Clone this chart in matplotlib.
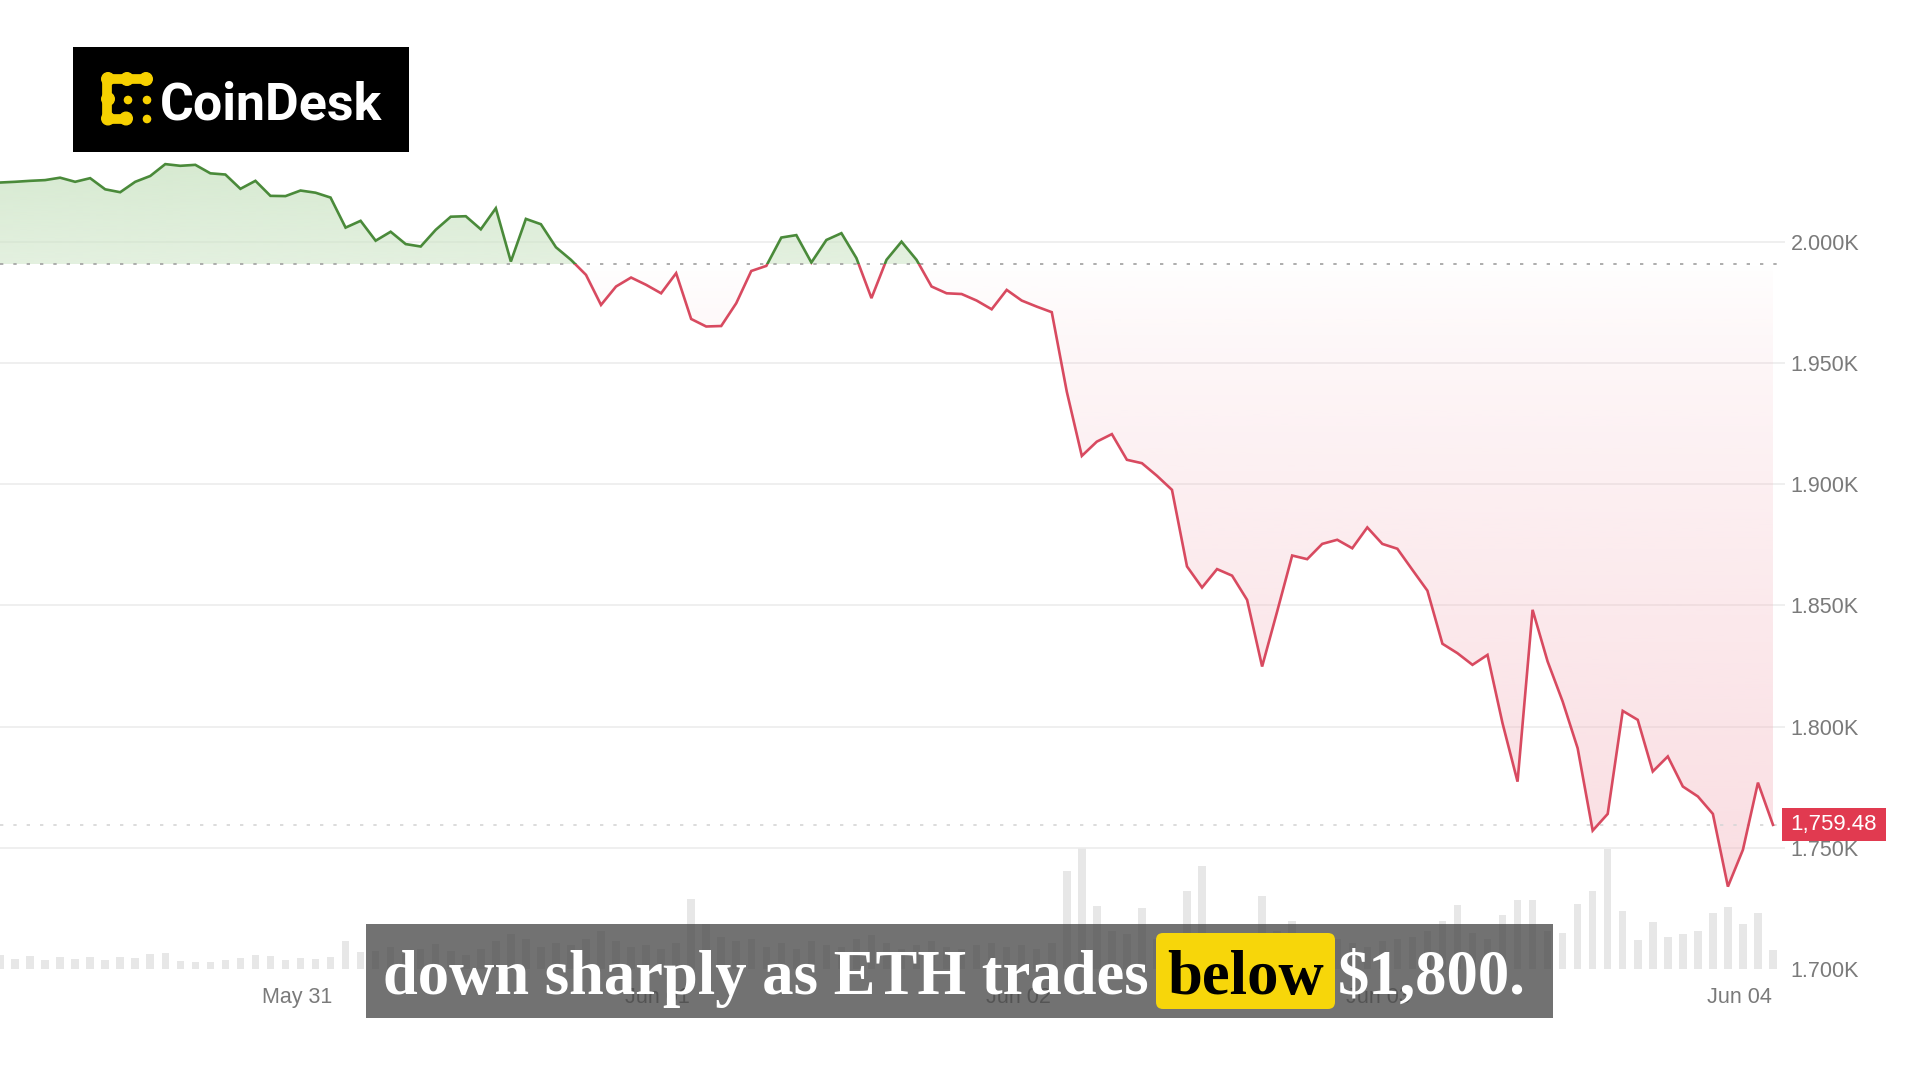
import matplotlib
matplotlib.use('Agg')
import matplotlib.pyplot as plt
import matplotlib.dates as mdates
import matplotlib.transforms as mtransforms
from matplotlib.patches import Rectangle, FancyBboxPatch, Circle
from matplotlib.path import Path
from matplotlib.ticker import FuncFormatter
import numpy as np
import pandas as pd

# ETH hourly price (USD)
price = [2024.5, 2024.8, 2025.2, 2025.5, 2026.5, 2024.8, 2026.3, 2021.7, 2020.5, 2024.8,
         2027.2, 2032.1, 2031.4, 2031.8, 2028.3, 2027.8, 2021.9, 2025.2, 2019.0, 2018.9,
         2021.2, 2020.3, 2018.3, 2005.9, 2008.7, 2000.5, 2004.2, 1999.1, 1998.1, 2005.0,
         2010.4, 2010.6, 2005.2, 2013.9, 1991.9, 2009.5, 2007.3, 1997.8, 1992.6, 1986.4,
         1974.0, 1981.6, 1985.3, 1982.3, 1978.8, 1987.1, 1968.2, 1965.1, 1965.3, 1974.7,
         1988.0, 1990.1, 2001.8, 2002.8, 1991.5, 2000.8, 2003.6, 1993.3, 1976.8, 1992.6,
         2000.1, 1992.6, 1981.6, 1978.8, 1978.5, 1975.8, 1972.2, 1980.2, 1975.8, 1973.3,
         1971.0, 1938.2, 1911.7, 1917.6, 1920.7, 1910.1, 1908.7, 1903.5, 1897.7, 1866.1,
         1857.4, 1865.0, 1862.3, 1852.3, 1824.8, 1847.5, 1870.6, 1869.1, 1875.4, 1877.1,
         1873.6, 1882.2, 1875.4, 1873.4, 1864.7, 1856.1, 1834.2, 1830.3, 1825.5, 1829.6,
         1801.4, 1777.3, 1848.2, 1826.9, 1810.4, 1791.1, 1757.1, 1764.0, 1806.5, 1802.8,
         1781.5, 1787.7, 1775.3, 1771.2, 1764.0, 1734.0, 1749.2, 1776.9, 1759.48]

# relative hourly volume (bar heights)
volume = [14, 10, 13, 9, 12, 10, 12, 9, 12, 11,
          15, 16, 8, 7, 7, 9, 11, 14, 13, 9,
          11, 10, 12, 28, 17, 18, 22, 15, 20, 25,
          18, 14, 20, 28, 35, 30, 22, 26, 24, 30,
          38, 28, 22, 24, 20, 26, 70, 45, 32, 28,
          30, 22, 26, 20, 28, 24, 22, 30, 34, 26,
          20, 24, 28, 22, 20, 24, 26, 22, 24, 20,
          26, 98, 121, 63, 38, 35, 61, 30, 36, 78,
          103, 35, 30, 32, 73, 38, 48, 28, 25, 30,
          26, 22, 28, 30, 32, 38, 48, 64, 36, 30,
          54, 69, 69, 38, 36, 65, 78, 120, 58, 29,
          47, 32, 35, 38, 56, 62, 45, 56, 19]

prev_close = 1990.7
times = pd.date_range('2025-05-30 04:14', periods=len(price), freq='h')

y_ticks = [1700, 1750, 1800, 1850, 1900, 1950, 2000]
x_tick_dates = ['2025-05-31', '2025-06-01', '2025-06-02', '2025-06-03', '2025-06-04']
x_tick_labels = ['May 31', 'Jun 01', 'Jun 02', 'Jun 03', 'Jun 04']
caption_parts = ['down sharply as ETH trades', 'below', '$1,800.']

GREEN = '#4a8a3a'
RED = '#d84a60'
TAG_RED = '#e13a50'

plt.rcParams['font.family'] = ['Liberation Sans', 'DejaVu Sans']

W, H = 1920, 1080
fig = plt.figure(figsize=(W / 100, H / 100), dpi=100)
fig.patch.set_facecolor('white')

rect = [0, (H - 969) / H, 1785 / W, (969 - 120) / H]
ax_vol = fig.add_axes(rect)
ax = fig.add_axes(rect)
ax.patch.set_visible(False)

x = mdates.date2num(times.to_numpy())
y = np.array(price)
step = 1 / 24
xlim = (x[0], x[0] + 118.8 * step)
ylim = (1700, 2050.3)

# volume bars
ax_vol.bar(x, volume, width=step * 0.5, color='#e7e7e7', linewidth=0)
ax_vol.set_xlim(xlim)
ax_vol.set_ylim(0, 849)
ax_vol.axis('off')

# gridlines and reference lines
for v in y_ticks[1:]:
    ax.axhline(v, color='#ececec', lw=1.2, zorder=0.5)
ax.axhline(prev_close, color='#a0a0a0', lw=1.2, ls=(0, (2, 6)), zorder=2)
ax.axhline(price[-1], color='#d6d6d6', lw=1.2, ls=(0, (2, 6)), zorder=2)


def gradient_region(mask, rgb, alphas, top, bottom, z):
    coll = ax.fill_between(x, y, prev_close, where=mask, interpolate=True)
    paths = coll.get_paths()
    coll.remove()
    if not paths:
        return
    clip = Path.make_compound_path(*paths)
    grad = np.zeros((256, 1, 4))
    grad[..., :3] = matplotlib.colors.to_rgb(rgb)
    grad[:, 0, 3] = alphas
    im = ax.imshow(grad, aspect='auto', origin='upper', interpolation='bilinear',
                   extent=[x[0], x[-1], bottom, top], zorder=z)
    im.set_clip_path(clip, transform=ax.transData)


t = np.linspace(0, 1, 256)
gradient_region(y >= prev_close, '#cde5c6', 0.85 - 0.3 * t, 2040, prev_close, 1)
gradient_region(y <= prev_close, '#f3b3bd', 0.45 * t ** 0.7, prev_close, 1720, 1)

# price line: green above previous close, red below
big = 1e4
up_clip = Rectangle((x[0] - 10, prev_close), 20 + x[-1] - x[0], big,
                    transform=ax.transData)
dn_clip = Rectangle((x[0] - 10, prev_close - big), 20 + x[-1] - x[0], big,
                    transform=ax.transData)
g_line, = ax.plot(x, y, color=GREEN, lw=1.9, zorder=3, solid_joinstyle='miter')
r_line, = ax.plot(x, y, color=RED, lw=1.9, zorder=3, solid_joinstyle='miter')
g_line.set_clip_path(up_clip)
r_line.set_clip_path(dn_clip)

ax.set_xlim(xlim)
ax.set_ylim(ylim)
for s in ax.spines.values():
    s.set_visible(False)

ax.yaxis.tick_right()
ax.set_yticks(y_ticks)
ax.yaxis.set_major_formatter(FuncFormatter(lambda v, p: f'{v / 1000:.3f}K'))
ax.tick_params(axis='y', length=0, pad=4, labelsize=15.5, labelcolor='#7a7a7a')
ax.set_xticks(mdates.date2num(pd.to_datetime(x_tick_dates).to_numpy()))
ax.set_xticklabels(x_tick_labels)
ax.tick_params(axis='x', length=0, pad=13, labelsize=15.5, labelcolor='#7a7a7a')

# last price tag
ppu = (ylim[1] - ylim[0]) / 849
trans = mtransforms.blended_transform_factory(ax.transAxes, ax.transData)
ax.add_patch(Rectangle((1782 / 1785, price[-1] - 16.5 * ppu), 104 / 1785, 33 * ppu,
                       transform=trans, facecolor=TAG_RED, edgecolor='none',
                       clip_on=False, zorder=6))
ax.text((1782 + 52) / 1785, price[-1], f'{price[-1]:,.2f}', transform=trans,
        ha='center', va='center', color='white', fontsize=16, zorder=7,
        clip_on=False)

# overlay in pixel coordinates for logo and caption
ov = fig.add_axes([0, 0, 1, 1])
ov.set_xlim(0, W)
ov.set_ylim(H, 0)
ov.axis('off')
ov.patch.set_visible(False)
renderer = fig.canvas.get_renderer()

# CoinDesk logo
ov.add_patch(Rectangle((73, 47), 336, 105, facecolor='black', edgecolor='none'))
YEL = '#f6d000'
ov.plot([107, 147], [79, 79], color=YEL, lw=7, solid_capstyle='round')
ov.plot([107, 107], [79, 118.5], color=YEL, lw=7, solid_capstyle='round')
ov.plot([107, 127], [118.5, 118.5], color=YEL, lw=7, solid_capstyle='round')
for cx, cy in [(108, 79), (127, 79), (146, 79), (108, 99), (108, 118.5), (126, 118.5)]:
    ov.add_patch(Circle((cx, cy), 6.3, color=YEL))
for cx, cy in [(128, 100), (147, 100), (147, 119)]:
    ov.add_patch(Circle((cx, cy), 3.6, color=YEL))
logo = ov.text(160, 119, 'CoinDesk', color='white', fontsize=40, fontweight='bold',
               family=['Roboto', 'DejaVu Sans'], ha='left', va='baseline')
lw_ = logo.get_window_extent(renderer).width
logo.set_fontsize(40 * 222 / lw_)

# caption
ov.add_patch(Rectangle((366, 924), 1187, 94, facecolor='#4a4a4a', alpha=0.78,
                       edgecolor='none'))
ov.add_patch(FancyBboxPatch((1156, 933), 179, 76,
                            boxstyle='round,pad=0,rounding_size=7',
                            facecolor='#f7d60a', edgecolor='none'))
cap_font = dict(family=['Liberation Serif', 'DejaVu Serif'], fontweight='bold')
t1 = ov.text(383, 994, caption_parts[0], color='white', fontsize=50,
             ha='left', va='baseline', **cap_font)
fs = 50 * 767 / t1.get_window_extent(renderer).width
t1.set_fontsize(fs)
ov.text(1245.5, 994, caption_parts[1], color='black', fontsize=fs,
        ha='center', va='baseline', **cap_font)
ov.text(1338, 994, caption_parts[2], color='white', fontsize=fs,
        ha='left', va='baseline', **cap_font)

fig.savefig('out.png', dpi=100)
